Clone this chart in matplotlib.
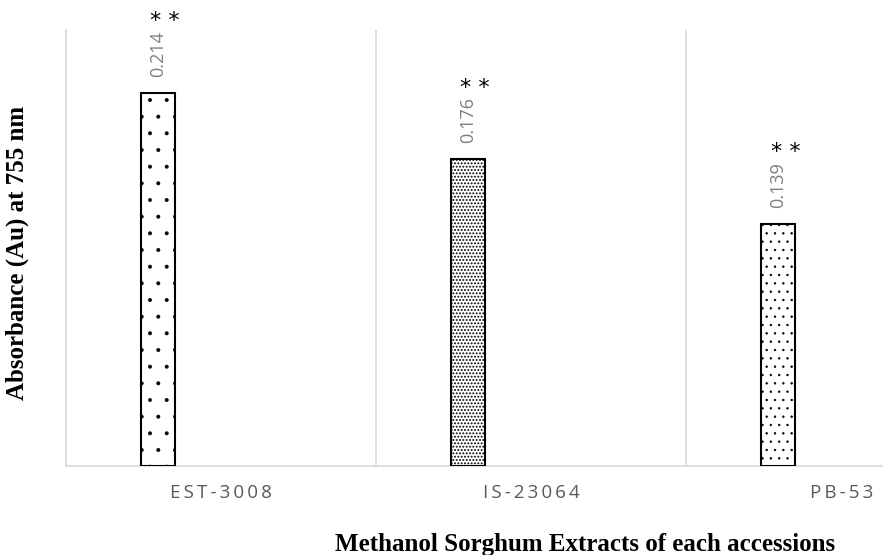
import matplotlib.pyplot as plt
import numpy as np

accessions = ["EST-3008", "IS-23064", "PB-53"]
absorbance = [0.214, 0.176, 0.139]
value_labels = ["0.214", "0.176", "0.139"]
signif = ["* *", "* *", "* *"]
hatches = [".", ".....", ".."]
hatch_lw = [0.4, 0.9, 0.5]

fig = plt.figure(figsize=(8.83, 5.55), dpi=100)
ax = fig.add_axes([66/883, 1 - 466/555, (883 - 66)/883, (466 - 30)/555])

x = np.arange(len(accessions))
offset = -0.203
for i, v in enumerate(absorbance):
    with plt.rc_context({'hatch.linewidth': hatch_lw[i]}):
        ax.bar(x[i] + offset, v, width=0.11, color="white", edgecolor="black",
               hatch=hatches[i], linewidth=1.5, zorder=3)
    ax.text(x[i] + offset, v + 0.009, value_labels[i], rotation=90,
            ha="center", va="bottom", color="#7f7f7f", fontsize=13,
            family="Open Sans")
    ax.text(x[i] + offset + 0.023, v + 0.041, signif[i], ha="center",
            va="center", color="black", fontsize=16, family="DejaVu Sans")

ax.set_xlim(-0.5, 2.135)
ax.set_ylim(0, 0.25)

for b in [0.5, 1.5]:
    ax.axvline(b, color="#d9d9d9", linewidth=1.2, zorder=1)

ax.set_xticks(x)
ax.set_xticklabels(["\u2009".join(a) for a in accessions], color="#595959",
                   fontsize=13.5, family="Open Sans")
ax.tick_params(axis="x", length=0, pad=13)
ax.set_yticks([])

for s in ["top", "right"]:
    ax.spines[s].set_visible(False)
ax.spines["left"].set_color("#d9d9d9")
ax.spines["bottom"].set_color("#d9d9d9")
ax.spines["left"].set_linewidth(1.2)
ax.spines["bottom"].set_linewidth(1.2)

fig.text(17/883, 1 - 253/555, "Absorbance (Au) at 755 nm", rotation=90,
         ha="center", va="center", fontsize=18, fontweight="bold",
         family="Liberation Serif")
fig.text(585/883, 1 - 544/555, "Methanol Sorghum Extracts of each accessions",
         ha="center", va="center", fontsize=18, fontweight="bold",
         family="Liberation Serif")

fig.savefig("out.png", dpi=100)
